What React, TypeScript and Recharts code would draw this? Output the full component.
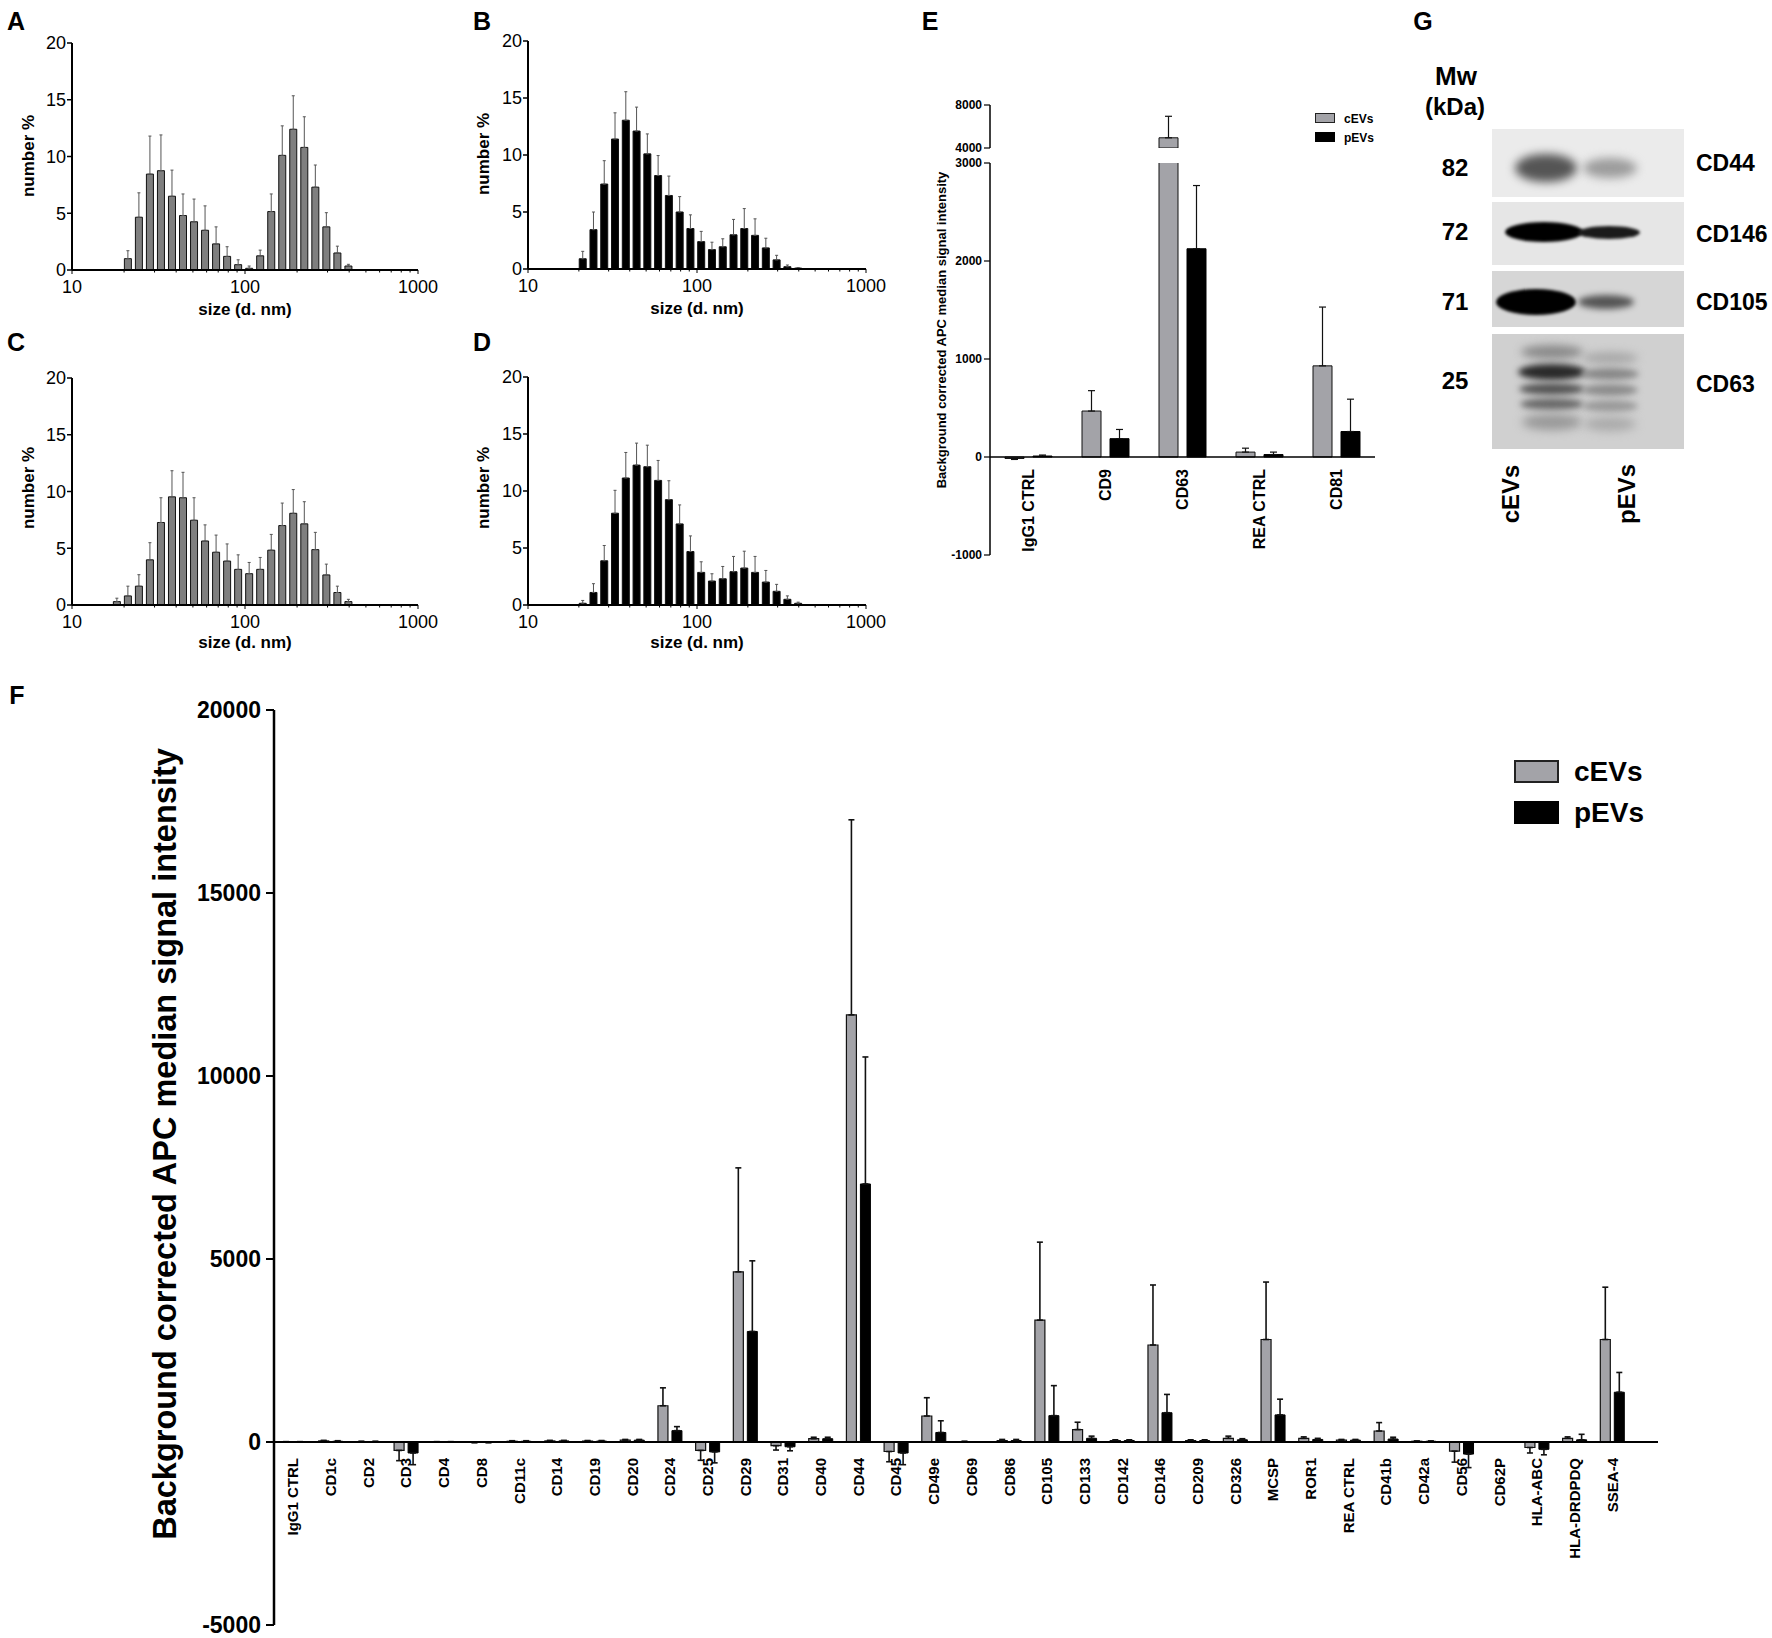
import React from 'react';
import { BarChart, Bar, XAxis, YAxis, ErrorBar, ReferenceLine } from 'recharts';

const FONT = '"Liberation Sans", Arial, Helvetica, sans-serif';

// ---------- Panels A-D : DLS size distributions ----------
const binSizes = [18.17, 21.04, 24.36, 28.21, 32.67, 37.84, 43.82, 50.75, 58.77, 68.06, 78.82, 91.28, 105.7, 122.4, 141.8, 164.2, 190.1, 220.2, 255.0, 295.3, 342.0, 396.1];
const sizeTicks = [10, 20, 30, 40, 50, 60, 70, 80, 90, 100, 200, 300, 400, 500, 600, 700, 800, 900, 1000];
const sizeMajorTicks = [10, 100, 1000];
const percentTicks = [0, 5, 10, 15, 20];

const histAValues = [null, 1.0, 4.65, 8.45, 8.75, 6.5, 4.8, 4.25, 3.5, 2.3, 1.2, 0.47, 0.15, 1.25, 5.15, 10.1, 12.4, 10.8, 7.3, 3.8, 1.5, 0.35];
const histASd = [null, 0.7, 2.15, 3.35, 3.15, 2.3, 1.9, 2.0, 2.15, 1.5, 0.85, 0.43, 0.2, 0.5, 1.55, 2.6, 2.95, 2.7, 1.95, 1.25, 0.6, 0.15];
const histBValues = [null, 0.9, 3.45, 7.45, 11.4, 13.05, 12.1, 10.1, 8.2, 6.45, 5.0, 3.55, 2.4, 1.7, 1.95, 3.0, 3.55, 2.95, 1.85, 0.8, 0.2, 0.08];
const histBSd = [null, 0.65, 1.55, 2.05, 2.3, 2.5, 2.1, 1.75, 1.75, 1.7, 1.35, 1.2, 0.9, 0.65, 0.7, 1.35, 1.75, 1.45, 0.85, 0.4, 0.15, 0.05];
const histCValues = [0.3, 0.8, 1.66, 3.98, 7.27, 9.53, 9.45, 7.47, 5.64, 4.65, 3.87, 3.14, 2.76, 3.14, 4.83, 7.0, 8.08, 7.15, 4.88, 2.65, 1.1, 0.3];
const histCSd = [0.3, 0.86, 1.01, 1.51, 2.18, 2.3, 2.24, 1.98, 1.42, 1.51, 1.51, 1.28, 0.99, 1.05, 1.39, 1.98, 2.09, 1.95, 1.52, 0.95, 0.56, 0.2];
const histDValues = [null, 0.15, 1.1, 3.88, 8.05, 11.14, 12.27, 12.13, 10.93, 9.24, 7.11, 4.69, 2.86, 2.1, 2.3, 2.92, 3.24, 2.86, 2.01, 1.2, 0.5, 0.15];
const histDSd = [null, 0.25, 0.77, 1.34, 2.01, 2.24, 1.93, 1.89, 1.75, 1.66, 1.67, 1.37, 0.93, 0.64, 1.08, 1.34, 1.48, 1.4, 1.02, 0.61, 0.3, 0.1];

// ---------- Panel E ----------
const eCategories = ['IgG1 CTRL', 'CD9', 'CD63', 'REA CTRL', 'CD81'];
const eCevValues = [-15, 469, 4950, 50, 930];
const eCevSd = [10, 208, 2000, 40, 600];
const ePevValues = [10, 187, 2125, 25, 260];
const ePevSd = [10, 94, 645, 25, 330];
const eLowerTicks = [-1000, 0, 1000, 2000, 3000];
const eUpperTicks = [4000, 8000];
const eBreakLow = 3000;
const eBreakHigh = 4000;
const eTop = 8000;
const eBottom = -1000;

// ---------- Panel F ----------
const fCategories = ['IgG1 CTRL', 'CD1c', 'CD2', 'CD3', 'CD4', 'CD8', 'CD11c', 'CD14', 'CD19', 'CD20', 'CD24', 'CD25', 'CD29', 'CD31', 'CD40', 'CD44', 'CD45', 'CD49e', 'CD69', 'CD86', 'CD105', 'CD133', 'CD142', 'CD146', 'CD209', 'CD326', 'MCSP', 'ROR1', 'REA CTRL', 'CD41b', 'CD42a', 'CD56', 'CD62P', 'HLA-ABC', 'HLA-DRDPDQ', 'SSEA-4'];
const fCevValues = [5, 30, 10, -230, 5, -10, 20, 30, 25, 50, 990, -230, 4650, -100, 90, 11670, -260, 710, 10, 40, 3330, 340, 40, 2650, 40, 100, 2800, 100, 50, 300, 20, -250, 0, -150, 100, 2800];
const fCevSd = [5, 15, 10, 280, 5, 10, 15, 15, 15, 20, 490, 270, 2840, 120, 40, 5330, 280, 500, 10, 30, 2130, 200, 20, 1640, 20, 60, 1570, 40, 20, 230, 10, 300, 5, 150, 40, 1430];
const fPevValues = [5, 20, 10, -300, 5, -10, 20, 30, 25, 50, 310, -270, 3020, -130, 90, 7050, -300, 260, 0, 40, 720, 100, 40, 800, 40, 60, 740, 70, 50, 80, 20, -330, 0, -200, 60, 1360];
const fPevSd = [5, 15, 10, 320, 5, 10, 15, 15, 15, 20, 110, 300, 1930, 110, 40, 3470, 320, 320, 5, 30, 820, 60, 20, 500, 20, 30, 430, 30, 20, 50, 10, 370, 5, 150, 150, 540];
const fTicks = [-5000, 0, 5000, 10000, 15000, 20000];

const seriesNames = ['cEVs', 'pEVs'];
const CEV_FILL = '#a3a3a8';
const PEV_FILL = '#000000';

const errPair = (v: number | null, sd: number | null) =>
  v == null || sd == null ? null : v < 0 ? [sd, 0] : [0, sd];

// ---------- helpers ----------
function Txt({ x, y, text, size, bold = true, rotate = 0, align = 'center' }: any) {
  return (
    <div
      style={{
        position: 'absolute',
        left: x,
        top: y,
        transform: `translate(${align === 'left' ? '0' : '-50%'},-50%) rotate(${rotate}deg)`,
        fontSize: size,
        fontWeight: bold ? 700 : 400,
        fontFamily: FONT,
        whiteSpace: 'nowrap',
        lineHeight: 1,
        color: '#000',
      }}
    >
      {text}
    </div>
  );
}

function renderLogTick(props: any) {
  const { x, y, payload } = props;
  const v = payload.value;
  const major = sizeMajorTicks.includes(v);
  return (
    <g>
      <line x1={x} x2={x} y1={y} y2={y + (major ? 4 : 2.5)} stroke="#000" strokeWidth={1} />
      {major ? (
        <text x={x} y={y + 23} textAnchor="middle" fontSize={18} fontFamily={FONT} fill="#000">
          {v}
        </text>
      ) : null}
    </g>
  );
}

function hangingTick(lift: number, fontSize: number) {
  return (props: any) => {
    const { x, y, payload } = props;
    return (
      <text
        transform={`translate(${x},${y - lift}) rotate(-90)`}
        textAnchor="end"
        dominantBaseline="central"
        fontSize={fontSize}
        fontWeight="bold"
        fontFamily={FONT}
        fill="#000"
      >
        {payload.value}
      </text>
    );
  };
}

function SizeHistogram({ values, sds, fill, left, top, marginTop, marginRight, xAxisHeight }: any) {
  const data = binSizes
    .map((size, i) => ({ size, value: values[i], err: errPair(values[i], sds[i]) }))
    .filter((d) => d.value != null);
  return (
    <div style={{ position: 'absolute', left, top }}>
      <BarChart width={440} height={320} data={data} margin={{ top: marginTop, right: marginRight, bottom: 0, left: 0 }}>
        <XAxis
          dataKey="size"
          type="number"
          scale="log"
          domain={[10, 1000]}
          ticks={sizeTicks}
          interval={0}
          allowDataOverflow
          height={xAxisHeight}
          tickLine={false}
          tickSize={0}
          tickMargin={0}
          axisLine={{ stroke: '#000', strokeWidth: 2 }}
          tick={renderLogTick}
        />
        <YAxis
          type="number"
          domain={[0, 20]}
          ticks={percentTicks}
          interval={0}
          allowDataOverflow
          width={72}
          tickSize={5}
          tickMargin={1}
          tickLine={{ stroke: '#000', strokeWidth: 1.5 }}
          axisLine={{ stroke: '#000', strokeWidth: 2 }}
          tick={{ fontSize: 18, fill: '#000', fontFamily: FONT }}
        />
        <Bar dataKey="value" fill={fill} stroke="#111" strokeWidth={1} barSize={7} isAnimationActive={false}>
          <ErrorBar dataKey="err" width={1.5} stroke="#555" strokeWidth={1} direction="y" />
        </Bar>
      </BarChart>
    </div>
  );
}

function PanelE() {
  const lowerData = eCategories.map((name, i) => ({
    name,
    cev: eCevValues[i],
    pev: ePevValues[i],
    cevErr: eCevValues[i] > eBreakLow ? null : errPair(eCevValues[i], eCevSd[i]),
    pevErr: ePevValues[i] > eBreakLow ? null : errPair(ePevValues[i], ePevSd[i]),
  }));
  const upperData = eCategories.map((name, i) => ({
    name,
    cev: eCevValues[i] > eBreakLow ? eCevValues[i] : null,
    pev: ePevValues[i] > eBreakLow ? ePevValues[i] : null,
    cevErr: eCevValues[i] > eBreakLow ? errPair(eCevValues[i], eCevSd[i]) : null,
    pevErr: ePevValues[i] > eBreakLow ? errPair(ePevValues[i], ePevSd[i]) : null,
  }));
  const tickStyle = { fontSize: 12, fontWeight: 'bold', fill: '#000', fontFamily: FONT };
  return (
    <>
      {/* lower segment -1000..3000 */}
      <div style={{ position: 'absolute', left: 900, top: 150 }}>
        <BarChart width={500} height={420} data={lowerData} margin={{ top: 13, right: 25, bottom: 0, left: 0 }} barGap={9}>
          <XAxis
            dataKey="name"
            interval={0}
            height={15}
            axisLine={false}
            tickLine={false}
            tickSize={0}
            tickMargin={0}
            tick={hangingTick(86, 16)}
          />
          <YAxis
            type="number"
            domain={[eBottom, eBreakLow]}
            ticks={eLowerTicks}
            interval={0}
            allowDataOverflow
            width={90}
            tickSize={6}
            tickMargin={2}
            tickLine={{ stroke: '#000', strokeWidth: 1.2 }}
            axisLine={{ stroke: '#000', strokeWidth: 1.5 }}
            tick={tickStyle}
          />
          <Bar dataKey="cev" name={seriesNames[0]} fill={CEV_FILL} stroke="#111" strokeWidth={1} barSize={19} isAnimationActive={false}>
            <ErrorBar dataKey="cevErr" width={3.5} stroke="#111" strokeWidth={1.2} direction="y" />
          </Bar>
          <Bar dataKey="pev" name={seriesNames[1]} fill={PEV_FILL} stroke="#000" strokeWidth={1} barSize={19} isAnimationActive={false}>
            <ErrorBar dataKey="pevErr" width={3.5} stroke="#111" strokeWidth={1.2} direction="y" />
          </Bar>
          <ReferenceLine y={0} stroke="#000" strokeWidth={1.5} />
        </BarChart>
      </div>
      {/* upper segment 4000-8000 */}
      <div style={{ position: 'absolute', left: 900, top: 90 }}>
        <BarChart width={500} height={72} data={upperData} margin={{ top: 15, right: 25, bottom: 14, left: 0 }} barGap={9}>
          <XAxis dataKey="name" hide />
          <YAxis
            type="number"
            domain={[eBreakHigh, eTop]}
            ticks={eUpperTicks}
            interval={0}
            allowDataOverflow
            width={90}
            tickSize={6}
            tickMargin={2}
            tickLine={{ stroke: '#000', strokeWidth: 1.2 }}
            axisLine={{ stroke: '#000', strokeWidth: 1.5 }}
            tick={tickStyle}
          />
          <Bar dataKey="cev" name={seriesNames[0]} fill={CEV_FILL} stroke="#111" strokeWidth={1} barSize={19} isAnimationActive={false}>
            <ErrorBar dataKey="cevErr" width={3.5} stroke="#111" strokeWidth={1.2} direction="y" />
          </Bar>
          <Bar dataKey="pev" name={seriesNames[1]} fill={PEV_FILL} stroke="#000" strokeWidth={1} barSize={19} isAnimationActive={false}>
            <ErrorBar dataKey="pevErr" width={3.5} stroke="#111" strokeWidth={1.2} direction="y" />
          </Bar>
        </BarChart>
      </div>
      {/* legend */}
      <div style={{ position: 'absolute', left: 1315, top: 113, width: 20, height: 10, background: CEV_FILL, border: '1px solid #222', boxSizing: 'border-box' }} />
      <div style={{ position: 'absolute', left: 1315, top: 132, width: 20, height: 10, background: PEV_FILL }} />
      <Txt x={1344} y={119} text={seriesNames[0]} size={12} align="left" />
      <Txt x={1344} y={138} text={seriesNames[1]} size={12} align="left" />
      <Txt x={941} y={330} text="Background corrected APC median signal intensity" size={13} rotate={-90} />
    </>
  );
}

function PanelF() {
  const data = fCategories.map((name, i) => ({
    name,
    cev: fCevValues[i],
    pev: fPevValues[i],
    cevErr: errPair(fCevValues[i], fCevSd[i]),
    pevErr: errPair(fPevValues[i], fPevSd[i]),
  }));
  return (
    <>
      <div style={{ position: 'absolute', left: 0, top: 680 }}>
        <BarChart width={1700} height={958} data={data} margin={{ top: 30, right: 42, bottom: 0, left: 0 }} barGap={4}>
          <XAxis
            dataKey="name"
            interval={0}
            height={13}
            padding={{ left: 0, right: 27 }}
            axisLine={false}
            tickLine={false}
            tickSize={0}
            tickMargin={0}
            tick={hangingTick(167, 15)}
          />
          <YAxis
            type="number"
            domain={[-5000, 20000]}
            ticks={fTicks}
            interval={0}
            allowDataOverflow
            width={274}
            tickSize={8}
            tickMargin={5}
            tickLine={{ stroke: '#000', strokeWidth: 2 }}
            axisLine={{ stroke: '#000', strokeWidth: 2.5 }}
            tick={{ fontSize: 23, fontWeight: 'bold', fill: '#000', fontFamily: FONT }}
          />
          <Bar dataKey="cev" name={seriesNames[0]} fill={CEV_FILL} stroke="#111" strokeWidth={1.2} barSize={10} isAnimationActive={false}>
            <ErrorBar dataKey="cevErr" width={3} stroke="#111" strokeWidth={1.6} direction="y" />
          </Bar>
          <Bar dataKey="pev" name={seriesNames[1]} fill={PEV_FILL} stroke="#000" strokeWidth={1} barSize={10} isAnimationActive={false}>
            <ErrorBar dataKey="pevErr" width={3} stroke="#111" strokeWidth={1.6} direction="y" />
          </Bar>
          <ReferenceLine y={0} stroke="#000" strokeWidth={2} />
        </BarChart>
      </div>
      <div style={{ position: 'absolute', left: 1514, top: 760, width: 45, height: 23, background: CEV_FILL, border: '2px solid #222', boxSizing: 'border-box' }} />
      <div style={{ position: 'absolute', left: 1514, top: 801, width: 45, height: 23, background: PEV_FILL }} />
      <Txt x={1574} y={772} text={seriesNames[0]} size={28} align="left" />
      <Txt x={1574} y={813} text={seriesNames[1]} size={28} align="left" />
      <Txt x={165} y={1144} text="Background corrected APC median signal intensity" size={32.5} rotate={-90} />
    </>
  );
}

function Band({ cx, cy, w, h, color, blur }: any) {
  return (
    <div
      style={{
        position: 'absolute',
        left: cx - w / 2,
        top: cy - h / 2,
        width: w,
        height: h,
        borderRadius: '50%',
        background: color,
        filter: `blur(${blur}px)`,
      }}
    />
  );
}

function BlotBox({ top, height, bg, children }: any) {
  return (
    <div style={{ position: 'absolute', left: 1492, top, width: 192, height, background: bg, overflow: 'hidden' }}>
      {children}
    </div>
  );
}

function PanelG() {
  return (
    <>
      <Txt x={1456} y={76} text="Mw" size={26} />
      <Txt x={1455} y={107} text="(kDa)" size={24} />
      <BlotBox top={129} height={68} bg="#ebebeb">
        <Band cx={54} cy={39} w={62} h={28} color="#555" blur={5} />
        <Band cx={118} cy={39} w={54} h={20} color="#9c9c9c" blur={5} />
      </BlotBox>
      <BlotBox top={202} height={63} bg="#e6e6e6">
        <Band cx={52} cy={30} w={78} h={20} color="#000" blur={1.5} />
        <Band cx={117} cy={30} w={62} h={13} color="#1a1a1a" blur={1.5} />
      </BlotBox>
      <BlotBox top={271} height={56} bg="#d6d6d6">
        <Band cx={44} cy={31} w={80} h={26} color="#000" blur={1.5} />
        <Band cx={114} cy={31} w={56} h={14} color="#555" blur={3} />
      </BlotBox>
      <BlotBox top={334} height={115} bg="#d0d0d0">
        <Band cx={60} cy={18} w={62} h={14} color="#8a8a8a" blur={4} />
        <Band cx={60} cy={38} w={68} h={16} color="#2a2a2a" blur={3} />
        <Band cx={60} cy={55} w={66} h={12} color="#555" blur={3} />
        <Band cx={60} cy={70} w={64} h={12} color="#6a6a6a" blur={3} />
        <Band cx={60} cy={88} w={60} h={16} color="#999" blur={5} />
        <Band cx={118} cy={24} w={56} h={12} color="#a8a8a8" blur={4} />
        <Band cx={118} cy={40} w={58} h={12} color="#888" blur={3} />
        <Band cx={118} cy={56} w={56} h={12} color="#8c8c8c" blur={3} />
        <Band cx={118} cy={72} w={56} h={12} color="#9a9a9a" blur={3} />
        <Band cx={118} cy={90} w={52} h={14} color="#aaa" blur={5} />
      </BlotBox>
      <Txt x={1455} y={168} text="82" size={24} />
      <Txt x={1455} y={232} text="72" size={24} />
      <Txt x={1455} y={302} text="71" size={24} />
      <Txt x={1455} y={381} text="25" size={24} />
      <Txt x={1696} y={163} text="CD44" size={23} align="left" />
      <Txt x={1696} y={234} text="CD146" size={23} align="left" />
      <Txt x={1696} y={302} text="CD105" size={23} align="left" />
      <Txt x={1696} y={384} text="CD63" size={23} align="left" />
      <Txt x={1511} y={494} text={seriesNames[0]} size={24} rotate={-90} />
      <Txt x={1627} y={494} text={seriesNames[1]} size={24} rotate={-90} />
    </>
  );
}

export default function App() {
  return (
    <div style={{ position: 'absolute', left: 0, top: 0, width: 1772, height: 1638, background: '#fff', fontFamily: FONT, overflow: 'hidden' }}>
      <SizeHistogram values={histAValues} sds={histASd} fill="#7f7f7f" left={0} top={0} marginTop={43} marginRight={22} xAxisHeight={50} />
      <SizeHistogram values={histBValues} sds={histBSd} fill="#000" left={456} top={0} marginTop={41} marginRight={30} xAxisHeight={51} />
      <SizeHistogram values={histCValues} sds={histCSd} fill="#7f7f7f" left={0} top={330} marginTop={48} marginRight={22} xAxisHeight={45} />
      <SizeHistogram values={histDValues} sds={histDSd} fill="#000" left={456} top={330} marginTop={47} marginRight={30} xAxisHeight={45} />

      <Txt x={28} y={156} text="number %" size={17} rotate={-90} />
      <Txt x={483} y={154} text="number %" size={17} rotate={-90} />
      <Txt x={28} y={488} text="number %" size={17} rotate={-90} />
      <Txt x={483} y={488} text="number %" size={17} rotate={-90} />
      <Txt x={245} y={309} text="size (d. nm)" size={17} />
      <Txt x={697} y={308} text="size (d. nm)" size={17} />
      <Txt x={245} y={642} text="size (d. nm)" size={17} />
      <Txt x={697} y={642} text="size (d. nm)" size={17} />

      <PanelE />
      <PanelF />
      <PanelG />

      <Txt x={16} y={21} text="A" size={25} />
      <Txt x={482} y={21} text="B" size={25} />
      <Txt x={16} y={342} text="C" size={25} />
      <Txt x={482} y={342} text="D" size={25} />
      <Txt x={930} y={21} text="E" size={25} />
      <Txt x={17} y={695} text="F" size={25} />
      <Txt x={1423} y={21} text="G" size={25} />
    </div>
  );
}
